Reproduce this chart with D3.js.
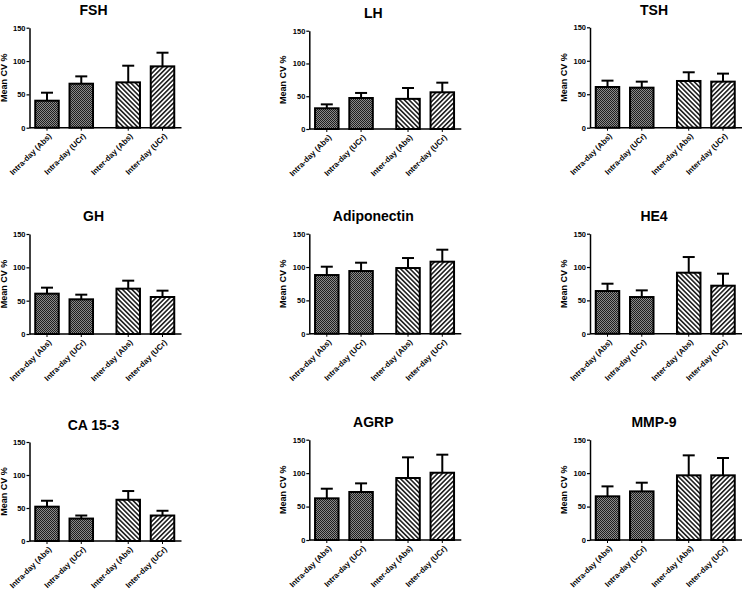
<!DOCTYPE html>
<html>
<head>
<meta charset="utf-8">
<script src="https://cdn.jsdelivr.net/npm/d3@7"></script>
<style>
  html, body { margin: 0; padding: 0; background: #fff; }
  svg { display: block; font-family: Arial, "Liberation Sans", Helvetica, sans-serif; }
</style>
</head>
<body>
<svg id="chart" width="745" height="592"></svg>
<script>
// ---- data ----
const categories = ["Intra-day (Abs)", "Intra-day (UCr)", "Inter-day (Abs)", "Inter-day (UCr)"];
const analytes = ["FSH", "LH", "TSH", "GH", "Adiponectin", "HE4", "CA 15-3", "AGRP", "MMP-9"];
const yTicks = [0, 50, 100, 150];

const fshMean = [40.5, 66, 68, 92];        const fshSD = [12, 11, 25, 20.5];
const lhMean = [31.6, 47.3, 46, 56];       const lhSD = [6, 7.7, 16.6, 14.7];
const tshMean = [60.8, 59.8, 69.8, 68.8];  const tshSD = [9.5, 9, 13, 12];
const ghMean = [60.5, 52, 68, 55.5];       const ghSD = [9, 7, 12, 9.5];
const adipoMean = [88, 94, 98.5, 108];     const adipoSD = [12.5, 12.5, 15, 18];
const he4Mean = [64, 55, 91.5, 72];        const he4SD = [11, 10, 23.5, 18];
const ca153Mean = [52, 34, 62.5, 38.6];    const ca153SD = [9, 4.6, 13.2, 7.2];
const agrpMean = [62.3, 71.8, 92.7, 100.6]; const agrpSD = [14.4, 12.9, 30.9, 27];
const mmp9Mean = [65.3, 72.7, 96.7, 96.7]; const mmp9SD = [14.9, 13, 29.9, 25.9];

const means = [fshMean, lhMean, tshMean, ghMean, adipoMean, he4Mean, ca153Mean, agrpMean, mmp9Mean];
const sds = [fshSD, lhSD, tshSD, ghSD, adipoSD, he4SD, ca153SD, agrpSD, mmp9SD];

// ---- layout ----
const colX = [29.5, 309.3, 590];
const rowTop = [[27.7, 30.7, 27.3], [234, 233.7, 233.7], [442, 439.7, 439.7]];
const rowBot = [[127.7, 129, 127.7], [334, 333.7, 333.7], [541, 540, 540]];
const titleY = [[10, 13, 10], [215.7, 215.7, 215.7], [425, 421.7, 421.7]];
const axisLen = 152;
const barW = 23.5;

const svg = d3.select("#chart");
const defs = svg.append("defs");

// dense dark crosshatch
const dark = defs.append("pattern").attr("id", "dark").attr("patternUnits", "userSpaceOnUse")
  .attr("width", 2).attr("height", 2);
dark.append("rect").attr("width", 2).attr("height", 2).attr("fill", "#8a8a8a");
dark.append("rect").attr("width", 1).attr("height", 1).attr("fill", "#1e1e1e");
dark.append("rect").attr("x", 1).attr("y", 1).attr("width", 1).attr("height", 1).attr("fill", "#1e1e1e");

function hatch(id, angle) {
  const p = defs.append("pattern").attr("id", id).attr("patternUnits", "userSpaceOnUse")
    .attr("width", 3.3).attr("height", 10).attr("patternTransform", `rotate(${angle})`);
  p.append("rect").attr("width", 3.3).attr("height", 10).attr("fill", "#fff");
  p.append("line").attr("x1", 0.8).attr("x2", 0.8).attr("y1", 0).attr("y2", 10)
    .attr("stroke", "#000").attr("stroke-width", 1.4);
}
hatch("back", -45);
hatch("fwd", 45);
const fills = ["url(#dark)", "url(#dark)", "url(#back)", "url(#fwd)"];

analytes.forEach((name, k) => {
  const r = Math.floor(k / 3), c = k % 3;
  const ax = colX[c], top = rowTop[r][c], bot = rowBot[r][c];
  const g = svg.append("g");

  const y = d3.scaleLinear().domain([0, 150]).range([bot, top]);
  const pos = categories.map((d, i) => i + (i >= 2 ? 0.37 : 0));
  const x = d3.scaleLinear().domain([0, 3.37]).range([ax + 17.5, ax + 133]);

  // title
  g.append("text").attr("x", ax + 64).attr("y", titleY[r][c]).attr("dy", "0.36em")
    .attr("text-anchor", "middle").attr("font-weight", "bold").attr("font-size", 14)
    .text(name);

  // y axis label
  g.append("text")
    .attr("transform", `translate(${ax - 23},${(top + bot) / 2}) rotate(-90)`)
    .attr("text-anchor", "middle").attr("font-weight", "bold").attr("font-size", 9)
    .text("Mean CV %");

  // bars
  const m = means[k], s = sds[k];
  categories.forEach((cat, i) => {
    const cx = x(pos[i]);
    // error bar (upper only)
    g.append("line").attr("x1", cx).attr("x2", cx).attr("y1", y(m[i])).attr("y2", y(m[i] + s[i]))
      .attr("stroke", "#000").attr("stroke-width", 2);
    g.append("line").attr("x1", cx - 6).attr("x2", cx + 6).attr("y1", y(m[i] + s[i])).attr("y2", y(m[i] + s[i]))
      .attr("stroke", "#000").attr("stroke-width", 2);
    g.append("rect").attr("x", cx - barW / 2).attr("y", y(m[i]))
      .attr("width", barW).attr("height", y(0) - y(m[i]))
      .attr("fill", fills[i]).attr("stroke", "#000").attr("stroke-width", 2);
  });

  // y axis
  const yAxis = g.append("g").attr("transform", `translate(${ax},0)`)
    .call(d3.axisLeft(y).tickValues(yTicks).tickSize(3).tickSizeOuter(0).tickPadding(1));
  yAxis.select(".domain").attr("stroke-width", 1.5);
  yAxis.selectAll(".tick line").attr("stroke-width", 1.2);
  yAxis.selectAll(".tick text").attr("font-weight", "bold").attr("font-size", 7.5)
    .attr("font-family", "Arial, 'Liberation Sans', sans-serif").attr("fill", "#000");

  // x axis
  g.append("line").attr("x1", ax).attr("x2", ax + axisLen).attr("y1", bot).attr("y2", bot)
    .attr("stroke", "#000").attr("stroke-width", 1.5);
  categories.forEach((cat, i) => {
    const cx = x(pos[i]);
    g.append("line").attr("x1", cx).attr("x2", cx).attr("y1", bot).attr("y2", bot + 3)
      .attr("stroke", "#000").attr("stroke-width", 1);
    g.append("text")
      .attr("transform", `translate(${cx + 3},${bot + 7}) rotate(-45)`)
      .attr("text-anchor", "end").attr("dy", "0.35em")
      .attr("font-weight", "bold").attr("font-size", 7.8)
      .text(cat);
  });
});
</script>
</body>
</html>
